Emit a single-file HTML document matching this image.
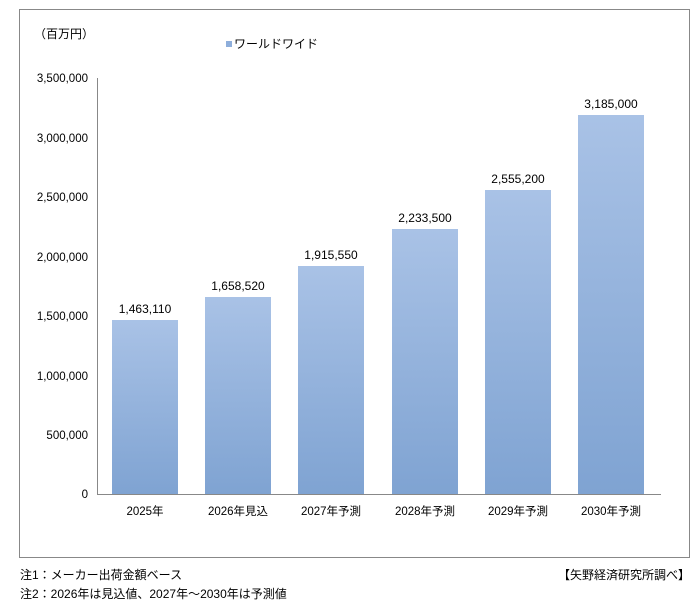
<!DOCTYPE html>
<html><head><meta charset="utf-8"><style>
body{margin:0;width:695px;height:603px;background:#fff;overflow:hidden;font-family:"Liberation Sans","Noto Sans CJK JP",sans-serif;}
</style></head><body>
<svg width="695" height="603" xmlns="http://www.w3.org/2000/svg" font-family="Liberation Sans, Noto Sans CJK JP, sans-serif">
<defs><linearGradient id="g" x1="0" y1="0" x2="0" y2="1"><stop offset="0" stop-color="#a9c2e6"/><stop offset="1" stop-color="#7fa3d2"/></linearGradient></defs>
<rect x="19.5" y="9.5" width="670" height="548" fill="#fff" stroke="#888" stroke-width="1"/>
<text x="34" y="38" font-size="12" fill="#000">（百万円）</text>
<rect x="226" y="41" width="6" height="6" fill="#8eaedb"/>
<text x="234" y="48" font-size="12" fill="#000">ワールドワイド</text>
<g font-size="11.5" text-anchor="end" fill="#000">
<text x="88" y="82">3,500,000</text><text x="88" y="142">3,000,000</text><text x="88" y="201">2,500,000</text><text x="88" y="261">2,000,000</text><text x="88" y="320">1,500,000</text><text x="88" y="380">1,000,000</text><text x="88" y="439">500,000</text><text x="88" y="498">0</text>
</g>
<line x1="97.5" y1="78" x2="97.5" y2="494" stroke="#888"/>
<line x1="97" y1="494.5" x2="661" y2="494.5" stroke="#888"/>
<g fill="url(#g)">
<rect x="112" y="320" width="66" height="174"/>
<rect x="205" y="297" width="66" height="197"/>
<rect x="298" y="266" width="66" height="228"/>
<rect x="392" y="229" width="66" height="265"/>
<rect x="485" y="190" width="66" height="304"/>
<rect x="578" y="115" width="66" height="379"/>
</g>
<g font-size="12" text-anchor="middle" fill="#000">
<text x="145" y="313">1,463,110</text><text x="238" y="290">1,658,520</text><text x="331" y="259">1,915,550</text><text x="425" y="222">2,233,500</text><text x="518" y="183">2,555,200</text><text x="611" y="108">3,185,000</text>
</g>
<g font-size="11.5" text-anchor="middle" fill="#000">
<text x="145" y="515">2025年</text><text x="238" y="515">2026年見込</text><text x="331" y="515">2027年予測</text><text x="425" y="515">2028年予測</text><text x="518" y="515">2029年予測</text><text x="611" y="515">2030年予測</text>
</g>
<text x="20" y="579" font-size="12" fill="#000">注1：メーカー出荷金額ベース</text>
<text x="20" y="598" font-size="12" fill="#000">注2：2026年は見込値、2027年～2030年は予測値</text>
<text x="690" y="579" font-size="12" fill="#000" text-anchor="end">【矢野経済研究所調べ】</text>
</svg>
</body></html>
